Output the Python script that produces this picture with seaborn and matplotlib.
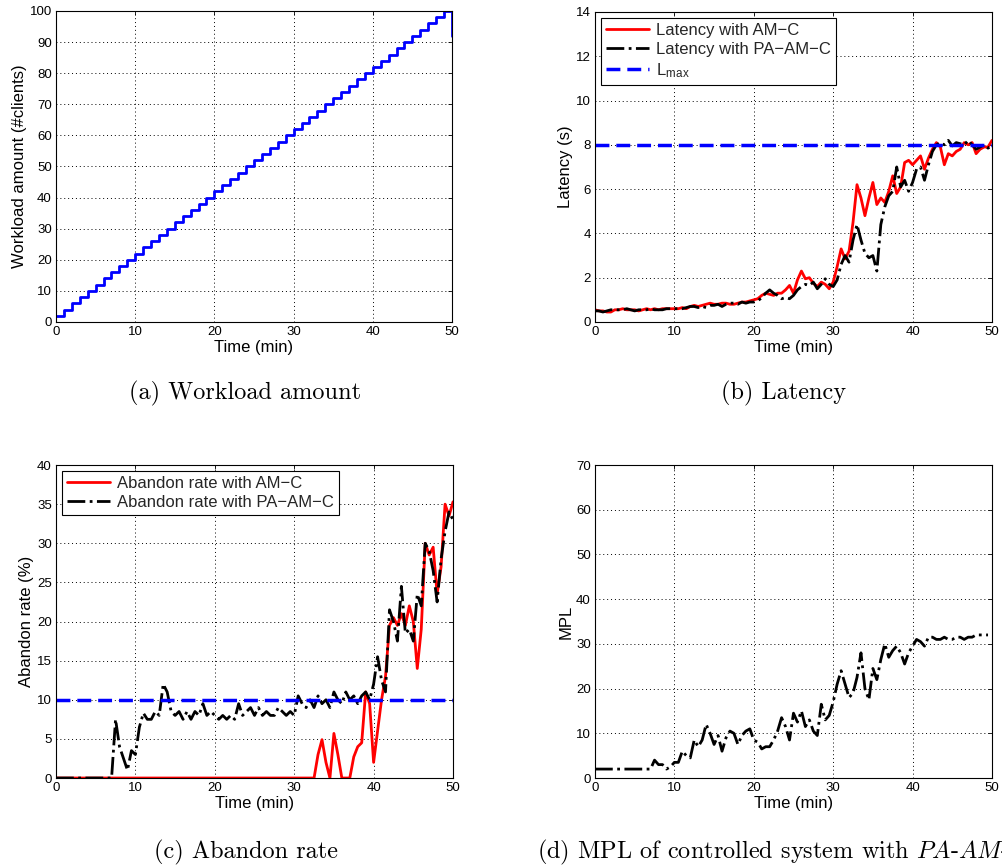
#!/usr/bin/env python3
"""
Workload, latency, abandon rate and MPL of the controlled system (2x2 panel figure)
"""

import numpy as np
import pandas as pd
import matplotlib
matplotlib.use('Agg')
import matplotlib.pyplot as plt
import seaborn as sns

# ---- data ----------------------------------------------------------------
# (a) workload: one step of 2 clients every minute, drop at the very end
wl_time = [0, 1, 2, 3, 4, 5, 6, 7, 8, 9, 10, 11, 12, 13, 14, 15, 16, 17, 18, 19,
           20, 21, 22, 23, 24, 25, 26, 27, 28, 29, 30, 31, 32, 33, 34, 35, 36, 37,
           38, 39, 40, 41, 42, 43, 44, 45, 46, 47, 48, 49, 50, 50]
wl_clients = [2, 4, 6, 8, 10, 12, 14, 16, 18, 20, 22, 24, 26, 28, 30, 32, 34, 36,
              38, 40, 42, 44, 46, 48, 50, 52, 54, 56, 58, 60, 62, 64, 66, 68, 70,
              72, 74, 76, 78, 80, 82, 84, 86, 88, 90, 92, 94, 96, 98, 100, 100, 92]

# sample instants for (b), (c), (d): every 30 s
time_min = np.linspace(0, 50, 101)

# (b) latency in seconds
lat_amc = [0.55, 0.5, 0.5, 0.45, 0.45, 0.55, 0.55, 0.6, 0.55, 0.55, 0.55, 0.5, 0.55,
           0.6, 0.55, 0.6, 0.55, 0.6, 0.6, 0.6, 0.6,
           0.6, 0.65, 0.6, 0.7, 0.75, 0.7, 0.75, 0.8, 0.85, 0.8, 0.8, 0.85, 0.85,
           0.8, 0.8, 0.85, 0.9, 0.9, 0.95,
           1.0, 1.05, 1.2, 1.3, 1.25, 1.2, 1.3, 1.3, 1.45, 1.65, 1.3, 1.9, 2.3, 1.95,
           2.0, 1.75, 1.6, 1.8, 1.7, 1.5, 1.8, 2.5, 3.3, 2.85, 3.2, 4.5, 6.2, 5.6,
           4.8, 5.6, 6.3, 5.3, 5.6, 5.4, 5.9, 6.6, 5.8, 6.1, 7.2, 7.3, 7.1, 7.3, 7.5,
           6.9, 7.4, 7.8, 8.1, 7.9, 7.1, 7.6, 7.5, 7.7, 7.8, 8.1, 8.0, 8.1, 7.6, 7.8,
           7.9, 7.9, 8.2]
lat_paamc = [0.5, 0.5, 0.45, 0.5, 0.55, 0.55, 0.55, 0.55, 0.6, 0.55, 0.5, 0.55, 0.55,
             0.55, 0.6, 0.55, 0.55, 0.55, 0.6, 0.6, 0.6,
             0.6, 0.6, 0.65, 0.7, 0.7, 0.65, 0.7, 0.65, 0.75, 0.75, 0.8, 0.7, 0.8,
             0.85, 0.85, 0.8, 0.9, 0.85, 0.9,
             0.9, 0.95, 1.1, 1.3, 1.45, 1.3, 1.2, 1.05, 1.1, 1.05, 1.2, 1.45, 1.6,
             1.7, 1.65, 1.8, 1.5, 1.7, 1.95, 1.7, 1.6, 1.9, 2.6, 3.0, 2.7, 3.7, 4.4,
             3.7, 3.1, 2.9, 3.0, 2.3, 4.4, 5.2, 5.7, 5.9, 7.0, 6.1, 6.4, 5.9, 6.3,
             6.9, 7.0, 6.4, 7.1, 7.7, 8.0, 8.1, 8.0, 8.2, 7.95, 8.1, 8.05, 8.0, 8.2,
             8.0, 7.8, 7.9, 8.0, 7.85, 7.95]
L_MAX = 8

# (c) abandon rate in %
abandon_amc = [0] * 66 + [
    3.0, 4.9, 2.0, 0, 5.7, 3.0, 0, 0, 0, 2.7, 4.0, 4.5, 11.0, 9.5, 2.0, 6.0, 10,
    13, 19.5, 20.5, 19.5, 21, 19.5, 22, 20, 14, 19, 30, 28.5, 29.5, 23.5, 27, 35,
    33.5, 35.3]
abandon_paamc = [0] * 15 + [
    7.5, 4, 2.5, 1.0, 3.5, 3, 6.5, 8.3, 7.5, 7.5, 8.5, 8, 12, 11, 8.5, 8, 8.5, 7.5,
    8.5, 7.5, 8.5, 8, 9.5, 8, 8.5, 8, 7.5, 8, 7.5, 8, 7.5, 9.5, 8, 8.5, 9, 8, 9, 8,
    8.5, 8, 8, 9, 8.5, 8, 8.5, 8,
    10.5, 9.5, 9, 10, 9, 10.5, 9.5, 10, 9, 11, 10, 9.5, 11, 10, 10.5, 9.5, 10.5, 11,
    10,
    12, 15.5, 12.5, 11, 21.5, 20, 17.5, 24.5, 18.5, 19, 17.5, 23.5, 22, 30, 29,
    26.5, 22.5, 28, 31.5, 34, 33]
ABANDON_MAX = 10

# (d) MPL with PA-AM-C (last sample at 49.5 min)
mpl_paamc = [2] * 15 + [
    4, 3, 3, 2, 2.5, 3.5, 3.5, 6, 5, 4.5, 8.5, 7, 8.5, 12, 10, 7.5, 9.5, 6, 9, 10.5,
    10, 7.5, 9.5, 10.5, 11, 8.5, 8, 6.5, 7, 7, 8.5, 10.5, 13.5, 11.5, 8.5, 14.5,
    12.5, 15, 11.5, 13, 10.5, 9.5, 16.5, 13, 14, 17, 21, 24, 21, 18, 19, 22.5, 28,
    20, 17.5, 24.5, 22, 26.5, 30, 27, 28.5, 29.5, 28, 25.5, 28, 29.5, 31, 30.5,
    29.5, 31.5, 31.5, 31, 31, 31.5, 31, 31, 31.5, 31.5, 31, 31.5, 31.5, 32, 32, 32,
    32]

# ---- style ---------------------------------------------------------------
sns.set_theme(style='white')
plt.rcParams['font.family'] = ['Liberation Sans', 'DejaVu Sans']
plt.rcParams['mathtext.fontset'] = 'cm'

TICK_SIZE = 9.5
LABEL_SIZE = 12
CAPTION_SIZE = 17.5


def style_axes(ax, ymax, ystep, ylabel):
    ax.set_xlim(0, 50)
    ax.set_ylim(0, ymax)
    ax.set_xticks(np.arange(0, 51, 10))
    ax.set_yticks(np.arange(0, ymax + 0.1, ystep))
    ax.grid(True, color='black', linestyle=(0, (1, 3)), linewidth=0.7)
    ax.tick_params(direction='in', length=3, width=0.6, labelsize=TICK_SIZE,
                   colors='black', top=True, right=True, pad=3)
    for sp in ax.spines.values():
        sp.set_color('black')
        sp.set_linewidth(0.8)
    ax.set_xlabel('Time (min)', fontsize=LABEL_SIZE, labelpad=1, color='black')
    ax.set_ylabel(ylabel, fontsize=LABEL_SIZE, labelpad=2, color='black')


def boxed_legend(ax):
    leg = ax.legend(loc='upper left', fontsize=12, handlelength=2.6,
                    borderaxespad=0.35, fancybox=False, framealpha=1,
                    edgecolor='black', labelspacing=0.25, borderpad=0.3,
                    handletextpad=0.4)
    leg.get_frame().set_linewidth(0.8)


fig = plt.figure(figsize=(10.02, 8.66), dpi=100)
ax_a = fig.add_axes([0.0559, 0.6282, 0.3952, 0.3591])
ax_b = fig.add_axes([0.5938, 0.6282, 0.3962, 0.3580])
ax_c = fig.add_axes([0.0559, 0.1016, 0.3962, 0.3614])
ax_d = fig.add_axes([0.5938, 0.1016, 0.3962, 0.3614])

# (a) workload
sns.lineplot(x=wl_time, y=wl_clients, ax=ax_a, color='#0000ff', linewidth=2,
             drawstyle='steps-post', estimator=None, sort=False)
style_axes(ax_a, 100, 10, 'Workload amount (#clients)')

# (b) latency
df_lat = pd.DataFrame({'t': time_min, 'amc': lat_amc, 'paamc': lat_paamc})
sns.lineplot(data=df_lat, x='t', y='amc', ax=ax_b, color='#ff0000', linewidth=2,
             label='Latency with AM\u2212C')
sns.lineplot(data=df_lat, x='t', y='paamc', ax=ax_b, color='black', linewidth=2,
             linestyle='-.', label='Latency with PA\u2212AM\u2212C')
ax_b.axhline(L_MAX, color='#0000ff', linewidth=2.5, linestyle=(0, (4, 2)),
             label='L$_\\mathregular{max}$')
style_axes(ax_b, 14, 2, 'Latency (s)')
boxed_legend(ax_b)

# (c) abandon rate
df_ab = pd.DataFrame({'t': time_min, 'amc': abandon_amc, 'paamc': abandon_paamc})
sns.lineplot(data=df_ab, x='t', y='amc', ax=ax_c, color='#ff0000', linewidth=2,
             label='Abandon rate with AM\u2212C')
sns.lineplot(data=df_ab, x='t', y='paamc', ax=ax_c, color='black', linewidth=2,
             linestyle='-.', label='Abandon rate with PA\u2212AM\u2212C')
ax_c.axhline(ABANDON_MAX, color='#0000ff', linewidth=2.5, linestyle=(0, (4, 2)))
style_axes(ax_c, 40, 5, 'Abandon rate (%)')
boxed_legend(ax_c)

# (d) MPL
df_mpl = pd.DataFrame({'t': time_min[:len(mpl_paamc)], 'mpl': mpl_paamc})
sns.lineplot(data=df_mpl, x='t', y='mpl', ax=ax_d, color='black', linewidth=2,
             linestyle='-.')
style_axes(ax_d, 70, 10, 'MPL')

# sub-figure captions (LaTeX-like serif)
cap = dict(fontsize=CAPTION_SIZE, family='cmr10', color='black', va='center')
fig.text(0.2445, 0.5462, '(a) Workload amount', ha='center', **cap)
fig.text(0.7824, 0.5462, '(b) Latency', ha='center', **cap)
fig.text(0.2455, 0.0162, '(c) Abandon rate', ha='center', **cap)
fig.text(0.536, 0.0162, '(d) MPL of controlled system with $PA$-$AM$-$C$',
         ha='left', **cap)

fig.savefig('out.png', dpi=100)
